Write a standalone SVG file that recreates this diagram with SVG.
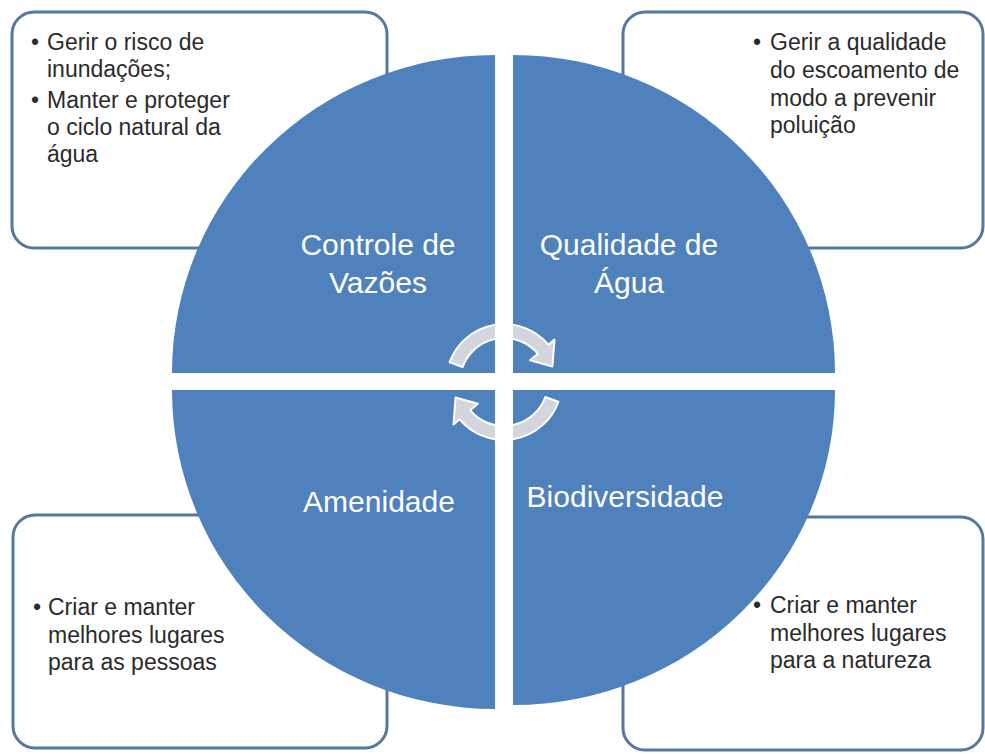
<svg xmlns="http://www.w3.org/2000/svg" width="985" height="754" viewBox="0 0 985 754">
<style>
.box{fill:#ffffff;stroke:#56779f;stroke-width:3}
.quad{fill:#4f81bd}
.btxt{font-family:"Liberation Sans",Arial,sans-serif;font-size:23px;fill:#2b2b2b}
.qtxt{font-family:"Liberation Sans",Arial,sans-serif;font-size:30px;fill:#ffffff;text-anchor:middle}
.arrow{fill:#d3d6df;stroke:#ffffff;stroke-width:2;stroke-linejoin:round}
</style>
<defs>
<clipPath id="quads">
<path d="M495,373 L172,373 A323 318 0 0 1 495,55 Z"/>
<path d="M513,373 L513,55 A322 318 0 0 1 835,373 Z"/>
<path d="M495,390 L495,709 A323 319 0 0 1 172,390 Z"/>
<path d="M513,390 L835,390 A322 315 0 0 1 513,705 Z"/>
</clipPath>
</defs>
<rect width="985" height="754" fill="#ffffff"/>

<g id="box-tl">
<rect class="box" x="12" y="12" width="375" height="236" rx="22"/>
<text class="btxt" x="31" y="50">•</text>
<text class="btxt" x="47" y="50">Gerir o risco de</text>
<text class="btxt" x="47" y="77">inundações;</text>
<text class="btxt" x="31" y="108">•</text>
<text class="btxt" x="47" y="108">Manter e proteger</text>
<text class="btxt" x="47" y="135">o ciclo natural da</text>
<text class="btxt" x="47" y="162">água</text>
</g>

<g id="box-tr">
<rect class="box" x="623" y="12" width="360" height="236" rx="22"/>
<text class="btxt" x="753" y="50">•</text>
<text class="btxt" x="770" y="50">Gerir a qualidade</text>
<text class="btxt" x="770" y="78">do escoamento de</text>
<text class="btxt" x="770" y="106">modo a prevenir</text>
<text class="btxt" x="770" y="133">poluição</text>
</g>

<g id="box-bl">
<rect class="box" x="13" y="515" width="374" height="233" rx="22"/>
<text class="btxt" x="33" y="615">•</text>
<text class="btxt" x="48" y="615">Criar e manter</text>
<text class="btxt" x="48" y="643">melhores lugares</text>
<text class="btxt" x="48" y="670">para as pessoas</text>
</g>

<g id="box-br">
<rect class="box" x="623" y="517" width="360" height="233" rx="22"/>
<text class="btxt" x="753" y="613">•</text>
<text class="btxt" x="770" y="613">Criar e manter</text>
<text class="btxt" x="770" y="641">melhores lugares</text>
<text class="btxt" x="770" y="668">para a natureza</text>
</g>

<g id="quad-controle">
<path class="quad" d="M495,373 L172,373 A323 318 0 0 1 495,55 Z"/>
<text class="qtxt" x="378" y="255">Controle de</text>
<text class="qtxt" x="378" y="293">Vazões</text>
</g>

<g id="quad-qualidade">
<path class="quad" d="M513,373 L513,55 A322 318 0 0 1 835,373 Z"/>
<text class="qtxt" x="629" y="255">Qualidade de</text>
<text class="qtxt" x="629" y="293">Água</text>
</g>

<g id="quad-amenidade">
<path class="quad" d="M495,390 L495,709 A323 319 0 0 1 172,390 Z"/>
<text class="qtxt" x="379" y="512">Amenidade</text>
</g>

<g id="quad-biodiversidade">
<path class="quad" d="M513,390 L835,390 A322 315 0 0 1 513,705 Z"/>
<text class="qtxt" x="625" y="507">Biodiversidade</text>
</g>

<g id="connectors" clip-path="url(#quads)">
<path class="arrow" d="M449.6,362.2 A58 58 0 0 1 548.4,344.7 L554.5,339.6 L552.4,366.5 L530.1,360.2 L537.7,353.7 A44 44 0 0 0 462.7,367.0 Z"/>
<path class="arrow" d="M558.4,401.8 A58 58 0 0 1 459.6,419.3 L453.5,424.4 L455.6,397.5 L477.9,403.8 L470.3,410.3 A44 44 0 0 0 545.3,397.0 Z"/>
</g>
</svg>
